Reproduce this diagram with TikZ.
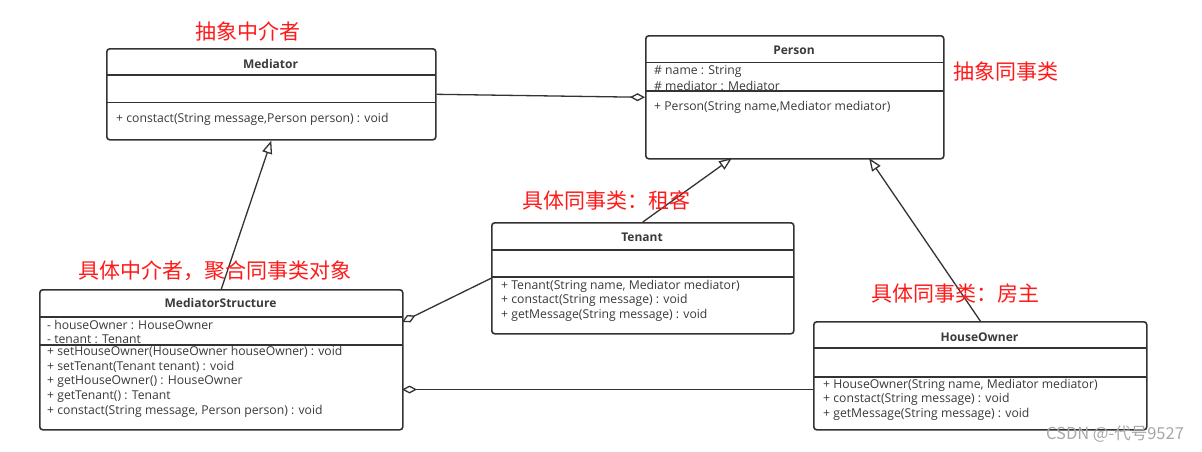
\documentclass[tikz,border=0pt]{standalone}
\usepackage{fontspec}
\setmainfont{Open Sans}
\newfontfamily\cjk{Noto Sans CJK SC}
\usetikzlibrary{arrows.meta}
\definecolor{ln}{HTML}{333333}
\definecolor{txt}{HTML}{3A3A3A}
\definecolor{lbl}{HTML}{FF1A1A}
\definecolor{wm}{HTML}{A8A8A8}
\begin{document}
\begin{tikzpicture}[x=1pt,y=-1pt,
 box/.style={draw=ln, line width=1.6pt, rounded corners=3pt, anchor=north west, inner sep=0pt, fill=white},
 sepline/.style={draw=ln, line width=1.3pt},
 cname/.style={inner sep=0pt, font=\bfseries\fontsize{12}{14}\selectfont, text=txt},
 mem/.style={anchor=west, inner sep=0pt, font=\fontsize{12.2}{14}\selectfont, text=txt},
 conn/.style={draw=ln, line width=1.3pt},
 agg/.style={conn, -{Diamond[open,length=15pt,width=8pt,line width=1.3pt]}},
 inh/.style={conn, -{Triangle[open,length=13pt,width=10pt,line width=1.3pt]}},
 note/.style={text=lbl, font=\cjk\fontsize{21}{24}\selectfont, inner sep=0pt}
]
\useasboundingbox[fill=white] (0,0) rectangle (1202,451);

% Mediator
\node[box, minimum width=329pt, minimum height=91pt] (med) at (106,48) {};
\node[cname] (medN) at (270.5,64) {Mediator};
\draw[sepline] (106,75) -- (435,75);
\draw[sepline] (106,102.7) -- (435,102.7);
\node[mem] (medM1) at (116,119) {+ constact(String message,Person person) : void};

% Person
\node[box, minimum width=298pt, minimum height=123pt] (per) at (645,35) {};
\node[cname] (perN) at (794,50) {Person};
\node[mem] (perA1) at (654,71.5) {\# name : String};
\node[mem] (perA2) at (654,86) {\# mediator : Mediator};
\draw[sepline] (645,62.3) -- (943,62.3);
\draw[sepline] (645,91) -- (943,91);
\node[mem] (perM1) at (654,107) {+ Person(String name,Mediator mediator)};

% Tenant
\node[box, minimum width=302pt, minimum height=111pt] (ten) at (491,222) {};
\node[cname] (tenN) at (642,237.7) {Tenant};
\draw[sepline] (491,250) -- (793,250);
\draw[sepline] (491,277) -- (793,277);
\node[mem] (tenM1) at (501,286) {+ Tenant(String name, Mediator mediator)};
\node[mem] (tenM2) at (501,300.5) {+ constact(String message) : void};
\node[mem] (tenM3) at (501,315) {+ getMessage(String message) : void};

% MediatorStructure
\node[box, minimum width=363pt, minimum height=140pt] (ms) at (39,289) {};
\node[cname] (msN) at (220.5,303) {MediatorStructure};
\node[mem] (msA1) at (47,324.5) {- houseOwner : HouseOwner};
\node[mem] (msA2) at (47,339.5) {- tenant : Tenant};
\draw[sepline] (39,317) -- (402,317);
\draw[sepline] (39,345) -- (402,345);
\node[mem] (msM1) at (47,352) {+ setHouseOwner(HouseOwner houseOwner) : void};
\node[mem] (msM2) at (47,366.8) {+ setTenant(Tenant tenant) : void};
\node[mem] (msM3) at (47,381.6) {+ getHouseOwner() : HouseOwner};
\node[mem] (msM4) at (47,396.4) {+ getTenant() : Tenant};
\node[mem] (msM5) at (47,411) {+ constact(String message, Person person) : void};

% HouseOwner
\node[box, minimum width=333pt, minimum height=108pt] (ho) at (813,321) {};
\node[cname] (hoN) at (979.5,336.7) {HouseOwner};
\draw[sepline] (813,348) -- (1146,348);
\draw[sepline] (813,377) -- (1146,377);
\node[mem] (hoM1) at (823,385) {+ HouseOwner(String name, Mediator mediator)};
\node[mem] (hoM2) at (823,399.5) {+ constact(String message) : void};
\node[mem] (hoM3) at (823,414) {+ getMessage(String message) : void};

% connectors
\coordinate (pT) at (732,158);
\coordinate (pH) at (869,158);
\coordinate (msT) at (402,322);
\coordinate (msH) at (402,389.5);
\coordinate (hoL) at (813,389.5);
\draw[agg] (med.east) -- (per.west);
\draw[inh] (ms.north) -- (med.south);
\draw[inh] (ten.north) -- (pT);
\draw[inh] (ho.north) -- (pH);
\draw[agg] (ten.west) -- (msT);
\draw[agg] (hoL) -- (msH);

% labels
\node[note] (l1) at (248,31) {抽象中介者};
\node[note] (l2) at (1006,72) {抽象同事类};
\node[note] (l3) at (606,200) {具体同事类：租客};
\node[note] (l4) at (215,271) {具体中介者，聚合同事类对象};
\node[note] (l5) at (955,294) {具体同事类：房主};
\node[inner sep=0pt, text=wm, font=\cjk\fontsize{16.5}{19}\selectfont] (wmk) at (1115,434) {CSDN @-代号9527};
\end{tikzpicture}
\end{document}
